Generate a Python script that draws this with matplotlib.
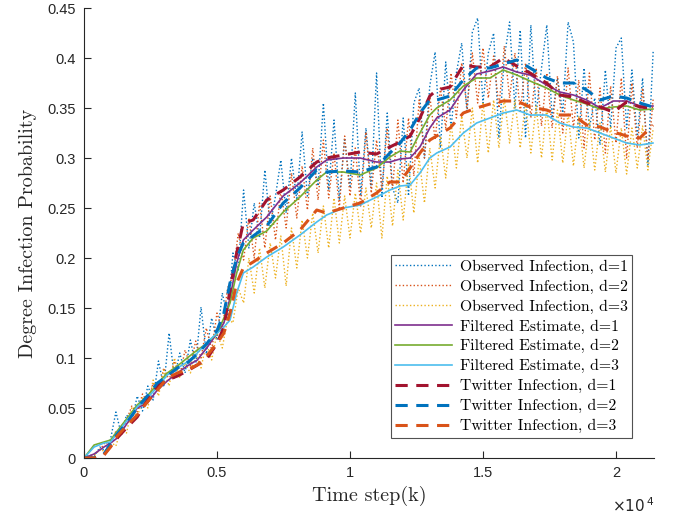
import matplotlib
matplotlib.use("Agg")
import matplotlib.pyplot as plt
import numpy as np

# ---------------- data ----------------
# smooth series sampled at these time steps
t_smooth = [0, 380, 750, 1000, 1250, 1630, 2000, 2380, 2760, 3130, 3510, 3880, 4260, 4640,
            5010, 5260, 5490, 5740, 5990, 6360, 6870, 7490, 8120, 8750, 9120, 9750, 10380,
            11000, 11500, 11880, 12260, 12630, 13000, 13260, 13760, 14260, 14760, 15260,
            15760, 16270, 16770, 17390, 17890, 18400, 18900, 19400, 19900, 20400, 20900, 21390]

filt_d1 = [0, 0.004, 0.011, 0.015, 0.020, 0.035, 0.050, 0.055, 0.068, 0.077, 0.085, 0.092, 0.098, 0.111,
           0.125, 0.135, 0.160, 0.195, 0.218, 0.228, 0.241, 0.262, 0.275, 0.291, 0.298, 0.300, 0.300,
           0.296, 0.296, 0.299, 0.300, 0.311, 0.330, 0.340, 0.348, 0.368, 0.384, 0.387,
           0.391, 0.386, 0.383, 0.373, 0.366, 0.363, 0.358, 0.350, 0.357, 0.357, 0.352, 0.352]
filt_d2 = [0, 0.013, 0.016, 0.018, 0.027, 0.040, 0.053, 0.062, 0.074, 0.085, 0.092, 0.100, 0.108, 0.115,
           0.125, 0.140, 0.155, 0.185, 0.208, 0.220, 0.227, 0.246, 0.261, 0.278, 0.286, 0.286, 0.283,
           0.290, 0.301, 0.307, 0.306, 0.325, 0.343, 0.350, 0.358, 0.372, 0.380, 0.380,
           0.388, 0.383, 0.377, 0.370, 0.363, 0.358, 0.354, 0.349, 0.351, 0.352, 0.348, 0.349]
filt_d3 = [0, 0.011, 0.015, 0.016, 0.025, 0.038, 0.051, 0.060, 0.071, 0.083, 0.090, 0.096, 0.105, 0.116,
           0.125, 0.131, 0.138, 0.165, 0.185, 0.191, 0.201, 0.211, 0.223, 0.236, 0.243, 0.250, 0.253,
           0.261, 0.268, 0.272, 0.273, 0.285, 0.300, 0.305, 0.311, 0.325, 0.335, 0.340,
           0.345, 0.348, 0.343, 0.343, 0.335, 0.331, 0.330, 0.325, 0.320, 0.315, 0.313, 0.315]

tw_d1 = [0, 0.000, 0.003, 0.012, 0.020, 0.031, 0.041, 0.058, 0.072, 0.078, 0.082, 0.087, 0.093, 0.100,
         0.115, 0.131, 0.168, 0.205, 0.235, 0.238, 0.258, 0.268, 0.281, 0.296, 0.300, 0.303, 0.306,
         0.304, 0.311, 0.316, 0.322, 0.340, 0.362, 0.368, 0.371, 0.393, 0.391, 0.391,
         0.400, 0.392, 0.385, 0.375, 0.363, 0.361, 0.355, 0.351, 0.346, 0.356, 0.351, 0.350]
tw_d2 = [0, 0.000, 0.004, 0.014, 0.024, 0.036, 0.050, 0.062, 0.075, 0.082, 0.090, 0.095, 0.104, 0.115,
         0.128, 0.145, 0.175, 0.200, 0.215, 0.222, 0.232, 0.255, 0.270, 0.288, 0.286, 0.287, 0.286,
         0.291, 0.305, 0.315, 0.328, 0.345, 0.358, 0.358, 0.362, 0.378, 0.390, 0.390,
         0.394, 0.398, 0.390, 0.380, 0.375, 0.375, 0.368, 0.358, 0.362, 0.360, 0.355, 0.351]
tw_d3 = [0, 0.000, 0.003, 0.011, 0.022, 0.033, 0.043, 0.056, 0.068, 0.080, 0.085, 0.088, 0.093, 0.103,
         0.115, 0.125, 0.145, 0.175, 0.190, 0.196, 0.205, 0.215, 0.228, 0.248, 0.245, 0.250, 0.255,
         0.265, 0.276, 0.276, 0.290, 0.305, 0.318, 0.322, 0.330, 0.345, 0.350, 0.354,
         0.357, 0.357, 0.351, 0.348, 0.343, 0.343, 0.333, 0.331, 0.326, 0.322, 0.320, 0.333]

# observed (noisy) series sampled every 200 steps
t_obs = list(range(0, 21401, 200))
obs_d1 = [0.000, 0.003, 0.002, 0.011, 0.007, 0.019, 0.046, 0.024, 0.043, 0.036,
          0.062, 0.047, 0.072, 0.058, 0.097, 0.071, 0.125, 0.080, 0.105, 0.085,
          0.118, 0.093, 0.151, 0.104, 0.140, 0.118, 0.165, 0.140, 0.205, 0.188,
          0.268, 0.210, 0.255, 0.220, 0.288, 0.232, 0.262, 0.298, 0.245, 0.300,
          0.258, 0.326, 0.262, 0.300, 0.272, 0.355, 0.268, 0.338, 0.258, 0.320,
          0.270, 0.365, 0.262, 0.330, 0.270, 0.385, 0.260, 0.345, 0.270, 0.255,
          0.340, 0.262, 0.355, 0.370, 0.300, 0.372, 0.406, 0.310, 0.396, 0.330,
          0.385, 0.415, 0.345, 0.426, 0.440, 0.355, 0.405, 0.425, 0.320, 0.400,
          0.436, 0.350, 0.428, 0.320, 0.433, 0.345, 0.390, 0.433, 0.340, 0.380,
          0.345, 0.436, 0.416, 0.320, 0.390, 0.330, 0.360, 0.313, 0.388, 0.330,
          0.410, 0.420, 0.330, 0.388, 0.320, 0.380, 0.293, 0.408]
obs_d2 = [0.000, 0.001, 0.004, 0.008, 0.016, 0.013, 0.027, 0.022, 0.038, 0.052,
          0.045, 0.064, 0.055, 0.075, 0.066, 0.090, 0.078, 0.097, 0.082, 0.108,
          0.092, 0.117, 0.100, 0.130, 0.108, 0.145, 0.128, 0.170, 0.182, 0.225,
          0.198, 0.240, 0.200, 0.255, 0.210, 0.262, 0.218, 0.268, 0.230, 0.285,
          0.240, 0.292, 0.248, 0.310, 0.258, 0.318, 0.260, 0.305, 0.250, 0.322,
          0.262, 0.310, 0.252, 0.326, 0.265, 0.318, 0.270, 0.330, 0.268, 0.338,
          0.275, 0.340, 0.282, 0.358, 0.300, 0.362, 0.318, 0.370, 0.330, 0.385,
          0.340, 0.395, 0.350, 0.405, 0.355, 0.410, 0.360, 0.402, 0.350, 0.412,
          0.360, 0.405, 0.345, 0.395, 0.340, 0.390, 0.332, 0.385, 0.330, 0.382,
          0.325, 0.390, 0.330, 0.378, 0.310, 0.385, 0.318, 0.370, 0.305, 0.372,
          0.315, 0.380, 0.300, 0.375, 0.310, 0.370, 0.298, 0.360]
obs_d3 = [0.000, 0.001, 0.003, 0.009, 0.006, 0.016, 0.012, 0.030, 0.025, 0.050,
          0.040, 0.060, 0.050, 0.078, 0.062, 0.088, 0.072, 0.100, 0.080, 0.095,
          0.085, 0.105, 0.090, 0.115, 0.098, 0.125, 0.110, 0.140, 0.135, 0.170,
          0.155, 0.200, 0.165, 0.210, 0.170, 0.215, 0.180, 0.222, 0.172, 0.230,
          0.190, 0.238, 0.200, 0.245, 0.205, 0.252, 0.210, 0.260, 0.215, 0.262,
          0.220, 0.265, 0.225, 0.270, 0.230, 0.275, 0.220, 0.282, 0.232, 0.288,
          0.238, 0.295, 0.245, 0.300, 0.255, 0.310, 0.270, 0.322, 0.280, 0.335,
          0.290, 0.342, 0.300, 0.350, 0.295, 0.356, 0.305, 0.358, 0.310, 0.360,
          0.315, 0.358, 0.310, 0.355, 0.305, 0.352, 0.300, 0.350, 0.298, 0.348,
          0.295, 0.345, 0.292, 0.342, 0.290, 0.338, 0.288, 0.335, 0.286, 0.332,
          0.285, 0.330, 0.284, 0.330, 0.290, 0.332, 0.288, 0.330]

labels = ["Observed Infection, d=1", "Observed Infection, d=2", "Observed Infection, d=3",
          "Filtered Estimate, d=1", "Filtered Estimate, d=2", "Filtered Estimate, d=3",
          "Twitter Infection, d=1", "Twitter Infection, d=2", "Twitter Infection, d=3"]
y_ticks = [0, 0.05, 0.1, 0.15, 0.2, 0.25, 0.3, 0.35, 0.4, 0.45]
y_tick_labels = ["0", "0.05", "0.1", "0.15", "0.2", "0.25", "0.3", "0.35", "0.4", "0.45"]
x_ticks = [0, 5000, 10000, 15000, 20000]
x_tick_labels = ["0", "0.5", "1", "1.5", "2"]

# ---------------- plot ----------------
plt.rcParams['font.family'] = ['Liberation Sans', 'DejaVu Sans']
fig = plt.figure(figsize=(6.8, 5.2), dpi=100)
ax = fig.add_axes([0.1235, 0.1192, 0.8383, 0.8654])

c_blue, c_orange, c_yellow = '#0072BD', '#D95319', '#EDB120'
c_purple, c_green, c_lblue, c_red = '#7E2F8E', '#77AC30', '#4DBEEE', '#A2142F'

dot = (0, (1, 1.6))
ax.plot(t_obs, obs_d1, color=c_blue, lw=1.0, ls=dot, label=labels[0])
ax.plot(t_obs, obs_d2, color=c_orange, lw=1.0, ls=dot, label=labels[1])
ax.plot(t_obs, obs_d3, color=c_yellow, lw=1.0, ls=dot, label=labels[2])
ax.plot(t_smooth, filt_d1, color=c_purple, lw=1.2, label=labels[3])
ax.plot(t_smooth, filt_d2, color=c_green, lw=1.2, label=labels[4])
ax.plot(t_smooth, filt_d3, color=c_lblue, lw=1.2, label=labels[5])
dash = (0, (4, 2.8))
ax.plot(t_smooth, tw_d1, color=c_red, lw=2.2, ls=dash, label=labels[6])
ax.plot(t_smooth, tw_d2, color=c_blue, lw=2.2, ls=dash, label=labels[7])
ax.plot(t_smooth, tw_d3, color=c_orange, lw=2.2, ls=dash, label=labels[8])

ax.set_xlim(0, 21430)
ax.set_ylim(0, 0.45)
ax.set_yticks(y_ticks)
ax.set_yticklabels(y_tick_labels)
ax.set_xticks(x_ticks)
ax.set_xticklabels(x_tick_labels)
ax.tick_params(direction='in', length=5, width=0.8, colors='#262626', labelsize=10.5, pad=6)
for s in ['top', 'right']:
    ax.spines[s].set_visible(False)
for s in ['left', 'bottom']:
    ax.spines[s].set_color('#262626')
    ax.spines[s].set_linewidth(0.8)

ax.set_ylabel("Degree Infection Probability", fontfamily='cmr10', fontsize=14.5, color='#262626', labelpad=7)
ax.set_xlabel("Time step(k)", fontfamily='cmr10', fontsize=14.5, color='#262626', labelpad=4)
ax.text(1.0, -0.085, r"$\times10^{\,4}$", transform=ax.transAxes, ha='right', va='top',
        fontsize=11, color='#262626')

leg = ax.legend(loc='lower right', bbox_to_anchor=(0.962, 0.045), prop={'family': 'cmr10', 'size': 11.3},
                frameon=True, fancybox=False, edgecolor='#262626', handlelength=3.6,
                labelspacing=0.36, borderpad=0.3, handletextpad=0.5, borderaxespad=0)
leg.get_frame().set_linewidth(0.8)

fig.savefig("out.png", dpi=100)
